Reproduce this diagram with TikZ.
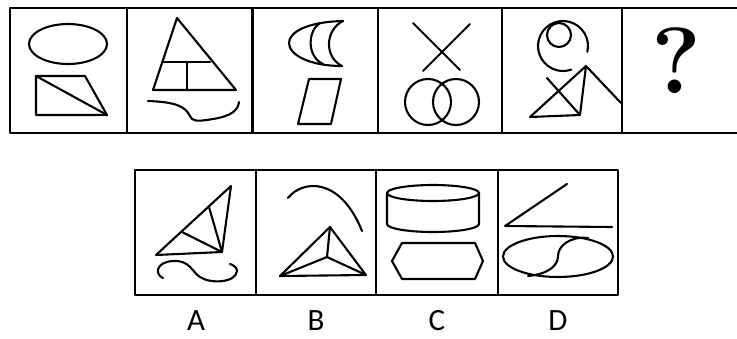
\documentclass[tikz,border=0pt]{standalone}
\usepackage{fontspec}
\usepackage{tikz}
\newfontfamily\labelfont{Carlito}

\begin{document}
\begin{tikzpicture}[x=1pt, y=-1pt, line join=round, line cap=round,
	khung/.style={line width=2.6pt, line cap=rect},
	hinh/.style={line width=2.1pt},
	nhan/.style={font=\labelfont\fontsize{31}{31}\selectfont, inner sep=0pt, anchor=base}]
	\useasboundingbox (0, 0) rectangle (737, 338);

	% Khung hàng trên
	\draw[khung] (737, 8) -- (10, 8) -- (10, 133) -- (737, 133);
	\foreach \x in {127, 252.5, 378, 502, 622} {
		\draw[khung] (\x, 8) -- (\x, 133);
	}

	% Khung hàng dưới
	\draw[khung] (135, 170) rectangle (618, 295);
	\foreach \x in {256, 376, 498} {
		\draw[khung] (\x, 170) -- (\x, 295);
	}

	% Ô 1: elip và hình thang
	\draw[hinh] (68, 44) ellipse (39 and 20);
	\draw[hinh] (36, 76) -- (85, 76) -- (107, 115) -- (36, 115) -- cycle;
	\draw[hinh] (36, 76) -- (107, 115);

	% Ô 2: tam giác và đường cong
	\draw[hinh] (177, 18) -- (153, 90) -- (236, 90) -- cycle;
	\draw[hinh] (163, 62) -- (210, 62);
	\draw[hinh] (187, 62) -- (187, 90);
	\draw[hinh] (148, 101) .. controls (175, 102) and (185, 106) .. (190, 116)
		.. controls (192, 121) and (196, 122) .. (213, 119)
		.. controls (232, 116) and (238, 110) .. (239, 102);

	% Ô 3: trăng khuyết và hình bình hành
	\draw[hinh] (343, 21) .. controls (305, 22) and (289, 33) .. (289, 43)
		.. controls (289, 55) and (310, 66) .. (342, 66);
	\draw[hinh] (320, 23) .. controls (308, 30) and (306, 56) .. (323, 64);
	\draw[hinh] (343, 21) .. controls (325, 30) and (324, 57) .. (342, 66);
	\draw[hinh] (309, 79) -- (341, 79) -- (331, 124) -- (298, 124) -- cycle;

	% Ô 4: dấu chéo và hai đường tròn
	\draw[hinh] (413, 23) -- (460, 70);
	\draw[hinh] (470, 24) -- (423, 71);
	\draw[hinh] (428, 102) circle (23);
	\draw[hinh] (456, 102) circle (23);

	% Ô 5: cung tròn và tam giác
	\draw[hinh] (563, 46) ++(13.5:25) arc[start angle=13.5, end angle=-289, radius=25];
	\draw[hinh] (559, 35) circle (12);
	\draw[hinh] (530, 117) -- (580, 115) -- (586, 66) -- cycle;
	\draw[hinh] (547, 78) -- (580, 115);
	\draw[hinh] (586, 66) -- (621, 103);

	% Ô 6: dấu hỏi
	\node[inner sep=0pt, anchor=base, font=\bfseries\fontsize{94}{94}\selectfont] (hoi) at (676, 93) {?};

	% Phương án A
	\draw[hinh] (231, 186) -- (156, 255) -- (222, 252) -- cycle;
	\draw[hinh] (222, 252) -- (182, 232);
	\draw[hinh] (222, 252) -- (209, 207);
	\draw[hinh] (163, 278) .. controls (155, 275) and (155, 262) .. (173, 261)
		.. controls (190, 260) and (192, 272) .. (200, 277)
		.. controls (210, 284) and (236, 283) .. (237, 271)
		.. controls (237, 267) and (233, 265) .. (230, 264);

	% Phương án B
	\draw[hinh] (288, 198) .. controls (302, 180) and (340, 176) .. (362, 231);
	\draw[hinh] (330, 227) -- (280, 276) -- (366, 275) -- cycle;
	\foreach \p in {(330, 227), (280, 276), (366, 275)} {
		\draw[hinh] (327, 257) -- \p;
	}

	% Phương án C
	\draw[hinh] (433, 193) ellipse (46 and 8);
	\draw[hinh] (387, 193) -- (387, 224) arc[start angle=180, end angle=0, x radius=46, y radius=8] -- (479, 193);
	\draw[hinh] (402, 243) -- (475, 243) -- (483, 261) -- (475, 279) -- (402, 279) -- (392, 261) -- cycle;

	% Phương án D
	\draw[hinh] (567, 184) -- (505, 226) -- (612, 227);
	\draw[hinh] (558, 256.5) ellipse (55 and 20.5);
	\draw[hinh] (528, 276) .. controls (548, 274) and (558, 266) .. (558, 256)
		.. controls (558, 246) and (570, 236) .. (588, 238);

	% Nhãn
	\node[nhan] (a) at (196, 330) {A};
	\node[nhan] (b) at (316, 330) {B};
	\node[nhan] (c) at (437, 330) {C};
	\node[nhan] (d) at (558, 330) {D};
\end{tikzpicture}
\end{document}
